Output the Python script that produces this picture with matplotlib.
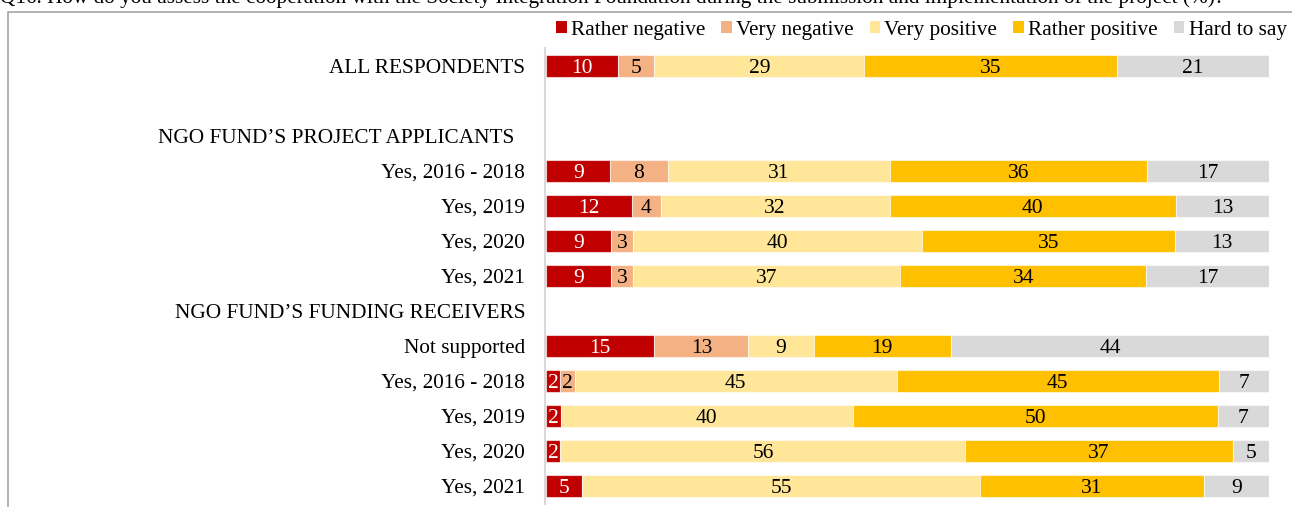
import matplotlib
matplotlib.use('Agg')
import matplotlib.pyplot as plt
from matplotlib.patches import Rectangle, Patch
import numpy as np

plt.rcParams['font.family'] = ['Liberation Serif', 'DejaVu Serif']
plt.rcParams['font.size'] = 15

title = ("Q16. How do you assess the cooperation with the Society Integration Foundation "
         "during the submission and implementation of the project (%)?")

categories = ["ALL RESPONDENTS", "", "NGO FUND\u2019S PROJECT APPLICANTS  ",
              "Yes, 2016 - 2018", "Yes, 2019", "Yes, 2020", "Yes, 2021",
              "NGO FUND\u2019S FUNDING RECEIVERS",
              "Not supported", "Yes, 2016 - 2018", "Yes, 2019", "Yes, 2020", "Yes, 2021"]

series_names = ["Rather negative", "Very negative", "Very positive", "Rather positive", "Hard to say"]
rather_negative = [10, 0, 0, 9, 12, 9, 9, 0, 15, 2, 2, 2, 5]
very_negative   = [5, 0, 0, 8, 4, 3, 3, 0, 13, 2, 0, 0, 0]
very_positive   = [29, 0, 0, 31, 32, 40, 37, 0, 9, 45, 40, 56, 55]
rather_positive = [35, 0, 0, 36, 40, 35, 34, 0, 19, 45, 50, 37, 31]
hard_to_say     = [21, 0, 0, 17, 13, 13, 17, 0, 44, 7, 7, 5, 9]

colors = ["#C00000", "#F4B183", "#FFE699", "#FFC000", "#D9D9D9"]
text_colors = ["white", "black", "black", "black", "black"]

vals = np.array([rather_negative, very_negative, very_positive, rather_positive, hard_to_say], dtype=float)
totals = vals.sum(axis=0)
totals[totals == 0] = 1
pct = vals / totals * 100

W, H = 1292, 507
fig = plt.figure(figsize=(W / 100, H / 100), dpi=100)
ax = fig.add_axes([546 / W, 1 - 503.5 / H, (1269 - 546) / W, (503.5 - 48.5) / H])

y = np.arange(len(categories))
left = np.zeros(len(categories))
for i in range(len(series_names)):
    ax.barh(y, pct[i], left=left, height=0.64, color=colors[i],
            edgecolor=(1, 1, 1, 0.6), linewidth=0.8)
    for j in range(len(categories)):
        if vals[i, j] > 0:
            ax.text(left[j] + pct[i, j] / 2, y[j], f"{int(vals[i, j])}",
                    ha='center', va='center_baseline', fontsize=15.5, color=text_colors[i])
    left += pct[i]

ax.set_xlim(0, 100)
ax.set_ylim(len(categories) - 0.5, -0.5)
ax.set_yticks(y)
ax.set_yticklabels(categories)
ax.tick_params(axis='y', length=0, pad=14, labelsize=15.3)
ax.set_xticks([])
for s in ['top', 'right', 'bottom']:
    ax.spines[s].set_visible(False)
ax.spines['left'].set_color('#D9D9D9')
ax.spines['left'].set_linewidth(1.5)
ax.spines['left'].set_position(('outward', 1))

handles = [Patch(facecolor=c, edgecolor='none') for c in colors]
fig.legend(handles, series_names, loc='center left', bbox_to_anchor=(556 / W, 1 - 30 / H),
           ncol=5, frameon=False, fontsize=15.3, handlelength=0.5, handleheight=0.5,
           handletextpad=0.2, columnspacing=0.75, borderpad=0, borderaxespad=0)

# outer frame
fig.patches.append(Rectangle((8 / W, -0.1), 2, 1.1 - 12 / H, transform=fig.transFigure,
                             fill=False, edgecolor='#A6A6A6', linewidth=1.2))

fig.text(0, 1 - 3 / H, title, ha='left', va='baseline', fontsize=15.3)

fig.savefig('out.png', dpi=100)
